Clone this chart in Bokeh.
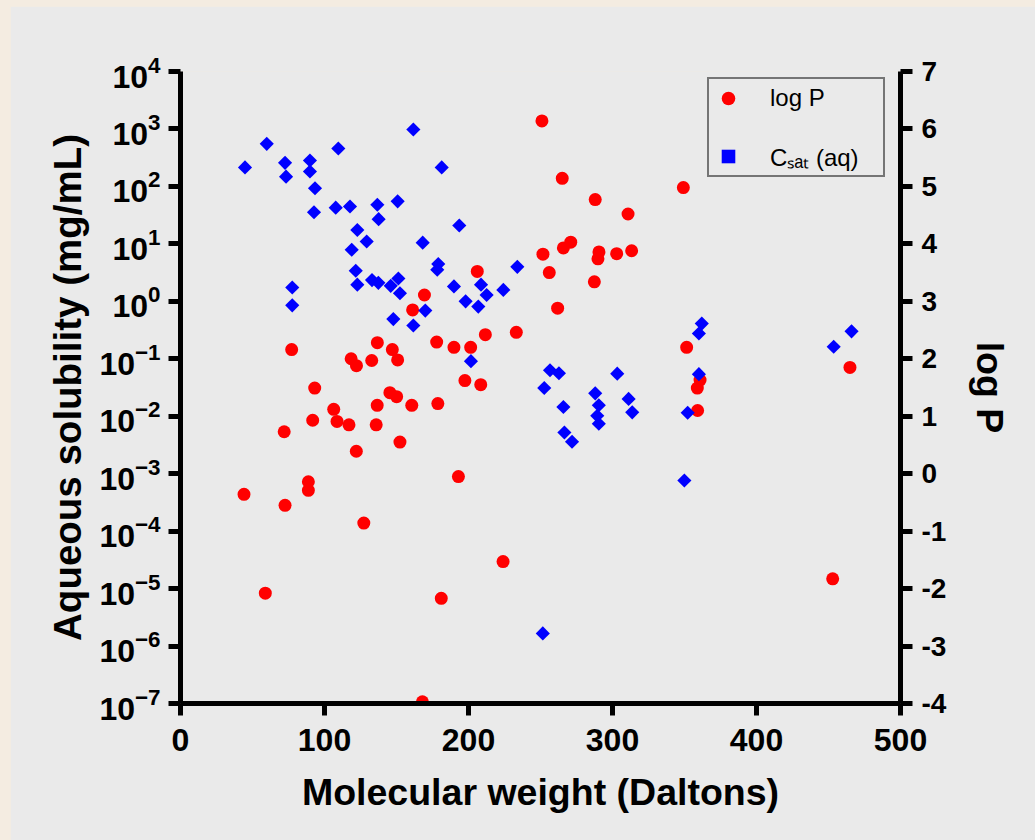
import numpy as np
from bokeh.plotting import figure
from bokeh.models import (Range1d, LinearAxis, LinearScale, FixedTicker, Legend,
                          LegendItem, ColumnDataSource)
from bokeh.layouts import column
from bokeh.embed import file_html
from bokeh.resources import INLINE

# ---- data ----
# log P series: molecular weight (Da) and log P
mw_logp = [206.1, 169.4, 161.2, 211.7, 77.2, 136.7, 177.9, 189.9, 201.5, 118.5,
           122.2, 132.8, 147.1, 150.8, 197.5, 208.5, 93.2, 145.4, 150.1, 106.4,
           136.6, 160.6, 178.7, 91.8, 108.7, 117.0, 135.9, 72.0, 152.4, 122.1,
           193.0, 88.8, 88.8, 44.1, 72.6, 127.3, 224.0, 58.9, 181.1, 168.0,
           251.0, 265.1, 288.0, 349.2, 310.8, 271.0, 265.9, 251.7, 290.6, 289.9,
           302.9, 313.3, 256.1, 287.4, 261.9, 233.2, 351.5, 464.9, 360.8, 358.9,
           359.1, 452.9]
logp = [3.52, 3.11, 2.85, 2.42, 2.16, 2.28, 2.29, 2.20, 2.20, 2.00,
        1.88, 1.97, 2.16, 1.98, 1.62, 1.55, 1.49, 1.41, 1.34, 1.12,
        1.19, 1.19, 1.22, 0.93, 0.91, 0.85, 0.85, 0.73, 0.55, 0.39,
        -0.05, -0.14, -0.29, -0.36, -0.55, -0.86, -1.53, -2.08, -2.17, -3.97,
        6.14, 5.14, 4.77, 4.98, 4.52, 4.03, 3.93, 3.82, 3.86, 3.74,
        3.83, 3.88, 3.50, 3.34, 2.88, 2.46, 2.20, 1.85, 1.63, 1.49,
        1.10, -1.83]

# Csat (aq) series: molecular weight (Da) and aqueous solubility (mg/mL)
mw_csat = [44.8, 59.9, 72.6, 73.3, 89.9, 89.9, 93.4, 109.6, 161.7, 181.4,
           92.7, 107.8, 117.7, 136.7, 137.6, 150.8, 122.8, 129.3, 118.9, 168.2,
           193.6, 121.7, 122.8, 133.0, 137.4, 146.0, 151.3, 152.4, 77.6, 77.6,
           147.8, 161.7, 170.0, 179.0, 178.3, 189.9, 198.0, 206.8, 208.7, 212.6,
           224.2, 201.7, 233.9, 362.0, 360.0, 466.0, 453.6, 256.6, 262.8, 303.3,
           360.0, 252.6, 288.0, 265.9, 290.5, 289.4, 290.5, 311.2, 313.7, 266.6,
           271.9, 352.2, 349.9, 251.6]
csat = [214, 550, 257, 148, 282, 182, 93, 457, 977, 214,
        35.5, 42.7, 44.7, 47.9, 26.9, 55, 17.4, 11, 7.9, 10.5,
        20.9, 3.4, 1.95, 2.34, 2.1, 1.86, 2.5, 1.38, 1.74, 0.85,
        0.49, 0.38, 0.69, 4.47, 3.55, 1.82, 1.0, 0.81, 1.95, 1.29,
        1.58, 0.091, 3.98, 0.41, 0.275, 0.30, 0.162, 0.063, 0.056, 0.055,
        0.054, 0.031, 0.025, 0.0145, 0.0155, 0.0102, 0.0074, 0.020, 0.0117, 0.0052,
        0.0036, 0.0115, 0.00076, 1.66e-6]

x_ticks = [0, 100, 200, 300, 400, 500]
left_ticks = [10.0 ** k for k in range(-7, 5)]
right_ticks = list(range(-4, 8))

PANEL = "#EAEAEA"
FONT = "Liberation Sans"

p = figure(width=1025, height=834,
           x_range=Range1d(0, 500), y_range=Range1d(1e-7, 1e4),
           y_axis_type="log", output_backend="svg", toolbar_location=None,
           min_border_left=170, min_border_right=135,
           min_border_top=65, min_border_bottom=137,
           background_fill_color=PANEL, border_fill_color=PANEL,
           outline_line_color=None)
p.xgrid.visible = False
p.ygrid.visible = False

p.extra_y_ranges = {"logp": Range1d(-4, 7)}
p.extra_y_scales = {"logp": LinearScale()}
right = LinearAxis(y_range_name="logp", axis_label="log P")
p.add_layout(right, "right")

p.xaxis.ticker = FixedTicker(ticks=x_ticks)
p.yaxis[0].ticker = FixedTicker(ticks=left_ticks)
right.ticker = FixedTicker(ticks=right_ticks)
right.major_label_overrides = {t: str(t) for t in right_ticks}

p.xaxis.axis_label = "Molecular weight (Daltons)"
p.yaxis[0].axis_label = "Aqueous solubility (mg/mL)"

for ax in [p.xaxis[0], p.yaxis[0], right]:
    ax.axis_line_width = 5
    ax.axis_line_color = "black"
    ax.major_tick_line_width = 5
    ax.major_tick_line_color = "black"
    ax.major_tick_out = 12
    ax.major_tick_in = 0
    ax.minor_tick_line_color = None
    ax.major_label_text_font = FONT
    ax.major_label_text_font_style = "bold"
    ax.major_label_text_color = "black"
    ax.axis_label_text_font = FONT
    ax.axis_label_text_font_style = "bold"
    ax.axis_label_text_color = "black"
    ax.axis_label_text_font_size = "37.5px"

p.yaxis[0].axis_label_text_font_size = "38.5px"
p.xaxis.major_label_text_font_size = "32px"
p.yaxis[0].major_label_text_font_size = "32px"
right.major_label_text_font_size = "28px"
p.xaxis.major_label_standoff = 13
p.xaxis.axis_label_standoff = 17
p.yaxis[0].major_label_standoff = 8
p.yaxis[0].axis_label_standoff = 7
right.major_label_standoff = 9
right.axis_label_standoff = 20

src_p = ColumnDataSource(dict(x=mw_logp, y=logp))
src_c = ColumnDataSource(dict(x=mw_csat, y=csat))

r_red = p.scatter("x", "y", source=src_p, y_range_name="logp", marker="circle",
                  size=13, fill_color="#FF0000", line_color=None)
r_blue = p.scatter("x", "y", source=src_c, marker="square", angle=np.pi / 4,
                   size=10, fill_color="#0000FF", line_color=None)

legend = Legend(items=[LegendItem(label="log P", renderers=[r_red]),
                       LegendItem(label="C\u209b\u2090\u209c (aq)", renderers=[r_blue])],
                location=(527, 526),
                padding=2, spacing=24, glyph_width=34, glyph_height=34,
                label_standoff=25, label_width=111, label_text_font=FONT,
                label_text_font_size="24px", label_text_color="black",
                background_fill_color=PANEL, background_fill_alpha=1.0,
                border_line_color="black", border_line_width=2)
p.add_layout(legend)

layout = column(p, styles={"background-color": "#F4ECE1",
                           "padding-left": "10px", "padding-top": "6px"})

open("out.html", "w").write(file_html(layout, INLINE))
